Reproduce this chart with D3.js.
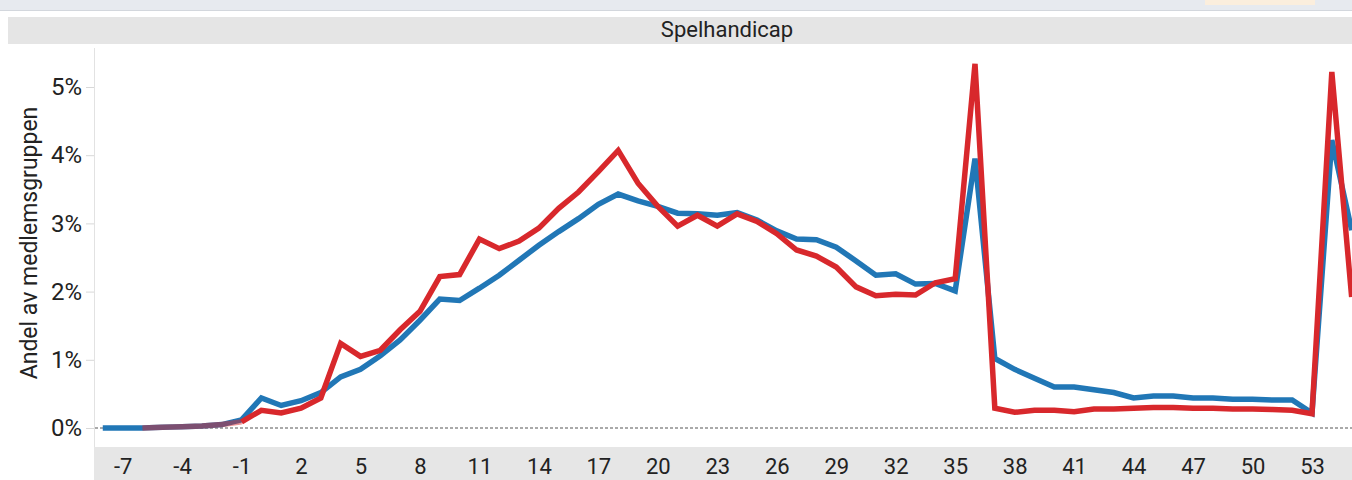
<!DOCTYPE html>
<html><head><meta charset="utf-8">
<script src="https://cdn.jsdelivr.net/npm/d3@7"></script>
<style>
html,body{margin:0;padding:0;background:#fff;}
svg{display:block;font-family:Roboto,"Noto Sans",sans-serif;}
</style></head>
<body><svg id="c" width="1352" height="480"></svg>
<script>
// Handicap categories (x values)
const handicaps = d3.range(-8, 56);
// Blue series (share of member group, fraction) for handicap -8..55
const blueValues = [0.0000,0.0000,0.0000,0.0001,0.0002,0.0003,0.0005,0.0012,0.0044,0.0033,
  0.0040,0.0052,0.0075,0.0086,0.0106,0.0129,0.0158,0.0189,0.0187,0.0205,
  0.0224,0.0246,0.0268,0.0288,0.0307,0.0328,0.0343,0.0333,0.0325,0.0315,
  0.0314,0.0312,0.0316,0.0305,0.0289,0.0277,0.0276,0.0265,0.0245,0.0224,
  0.0226,0.0211,0.0212,0.0201,0.0395,0.0102,0.0086,0.0073,0.0060,0.0060,
  0.0056,0.0052,0.0044,0.0047,0.0047,0.0044,0.0044,0.0042,0.0042,0.0041,
  0.0041,0.0022,0.0422,0.0290];
// Red series, handicap -6..55
const redStart = -6;
const redValues = [0.0000,0.0001,0.0002,0.0003,0.0005,0.0009,0.0026,0.0022,0.0029,0.0044,
  0.0124,0.0105,0.0114,0.0144,0.0171,0.0222,0.0225,0.0277,0.0263,0.0274,
  0.0293,0.0322,0.0346,0.0376,0.0407,0.0359,0.0325,0.0296,0.0312,0.0296,
  0.0314,0.0303,0.0285,0.0261,0.0252,0.0236,0.0207,0.0194,0.0196,0.0195,
  0.0213,0.0219,0.0534,0.0029,0.0023,0.0026,0.0026,0.0024,0.0028,0.0028,
  0.0029,0.0030,0.0030,0.0029,0.0029,0.0028,0.0028,0.0027,0.0026,0.0021,
  0.0522,0.0192];
const xTicks = d3.range(-7, 54, 3);
const yTicks = [0, 0.01, 0.02, 0.03, 0.04, 0.05];
const title = "Spelhandicap";
const yTitle = "Andel av medlemsgruppen";

const svg = d3.select("#c");
const blue = "#2177b6", red = "#d8282c";

// header chrome
svg.append("rect").attr("x",0).attr("y",0).attr("width",1352).attr("height",10).attr("fill","#e7eaef");
svg.append("rect").attr("x",1205).attr("y",0).attr("width",110).attr("height",5).attr("fill","#fbeedd");
svg.append("line").attr("x1",0).attr("x2",1352).attr("y1",10.5).attr("y2",10.5).attr("stroke","#d3d7dd");
svg.append("rect").attr("x",8).attr("y",17).attr("width",1344).attr("height",27).attr("fill","#e5e5e5");
svg.append("text").attr("x",727).attr("y",37).attr("text-anchor","middle")
  .attr("font-size",22).attr("fill","#222").text(title);

const x = d3.scaleLinear().domain([-7, 53]).range([122.6, 1312]);
const y = d3.scaleLinear().domain([0, 0.05]).range([428, 87]);

// x-axis band
svg.append("rect").attr("x",94).attr("y",447).attr("width",1258).attr("height",33).attr("fill","#e6e6e6");
// y axis line
svg.append("line").attr("x1",94.5).attr("x2",94.5).attr("y1",48).attr("y2",447).attr("stroke","#e2e2e2");

const yAxis = d3.axisLeft(y).tickValues(yTicks).tickFormat(d3.format(".0%")).tickSize(8).tickPadding(4);
const yg = svg.append("g").attr("transform","translate(94,0)").call(yAxis);
yg.select(".domain").remove();
yg.selectAll(".tick line").attr("stroke","#d8d8d8");
yg.selectAll(".tick text").attr("font-size",24).attr("fill","#222").attr("font-family","Roboto,sans-serif");

svg.append("text").attr("transform","translate(37,243) rotate(-90)")
  .attr("text-anchor","middle").attr("font-size",23).attr("fill","#222").text(yTitle);

const xAxis = d3.axisBottom(x).tickValues(xTicks).tickFormat(d => String(d)).tickSize(0).tickPadding(0);
const xg = svg.append("g").attr("transform","translate(0,447)").call(xAxis);
xg.select(".domain").remove();
xg.selectAll(".tick text").attr("font-size",22).attr("fill","#222").attr("dy",null).attr("y",27)
  .attr("font-family","Roboto,sans-serif");

// zero line
svg.append("line").attr("x1",95).attr("x2",1352).attr("y1",y(0)).attr("y2",y(0))
  .attr("stroke","#555").attr("stroke-width",1).attr("stroke-dasharray","3,2");

const line = d3.line().x(d => x(d[0])).y(d => y(d[1]));
const blueData = handicaps.map((h,i) => [h, blueValues[i]]);
const redData = redValues.map((v,i) => [redStart + i, v]);

svg.append("path").datum(blueData).attr("d", line).attr("fill","none")
  .attr("stroke",blue).attr("stroke-width",5.5).attr("stroke-linejoin","miter");
// early low segment of red rendered translucent (appears purple over blue)
svg.append("path").datum(redData.filter(d => d[0] <= -1)).attr("d", line).attr("fill","none")
  .attr("stroke",red).attr("stroke-width",5.5).attr("stroke-opacity",0.5);
svg.append("path").datum(redData.filter(d => d[0] >= -1)).attr("d", line).attr("fill","none")
  .attr("stroke",red).attr("stroke-width",5.5).attr("stroke-linejoin","miter");
</script></body></html>
